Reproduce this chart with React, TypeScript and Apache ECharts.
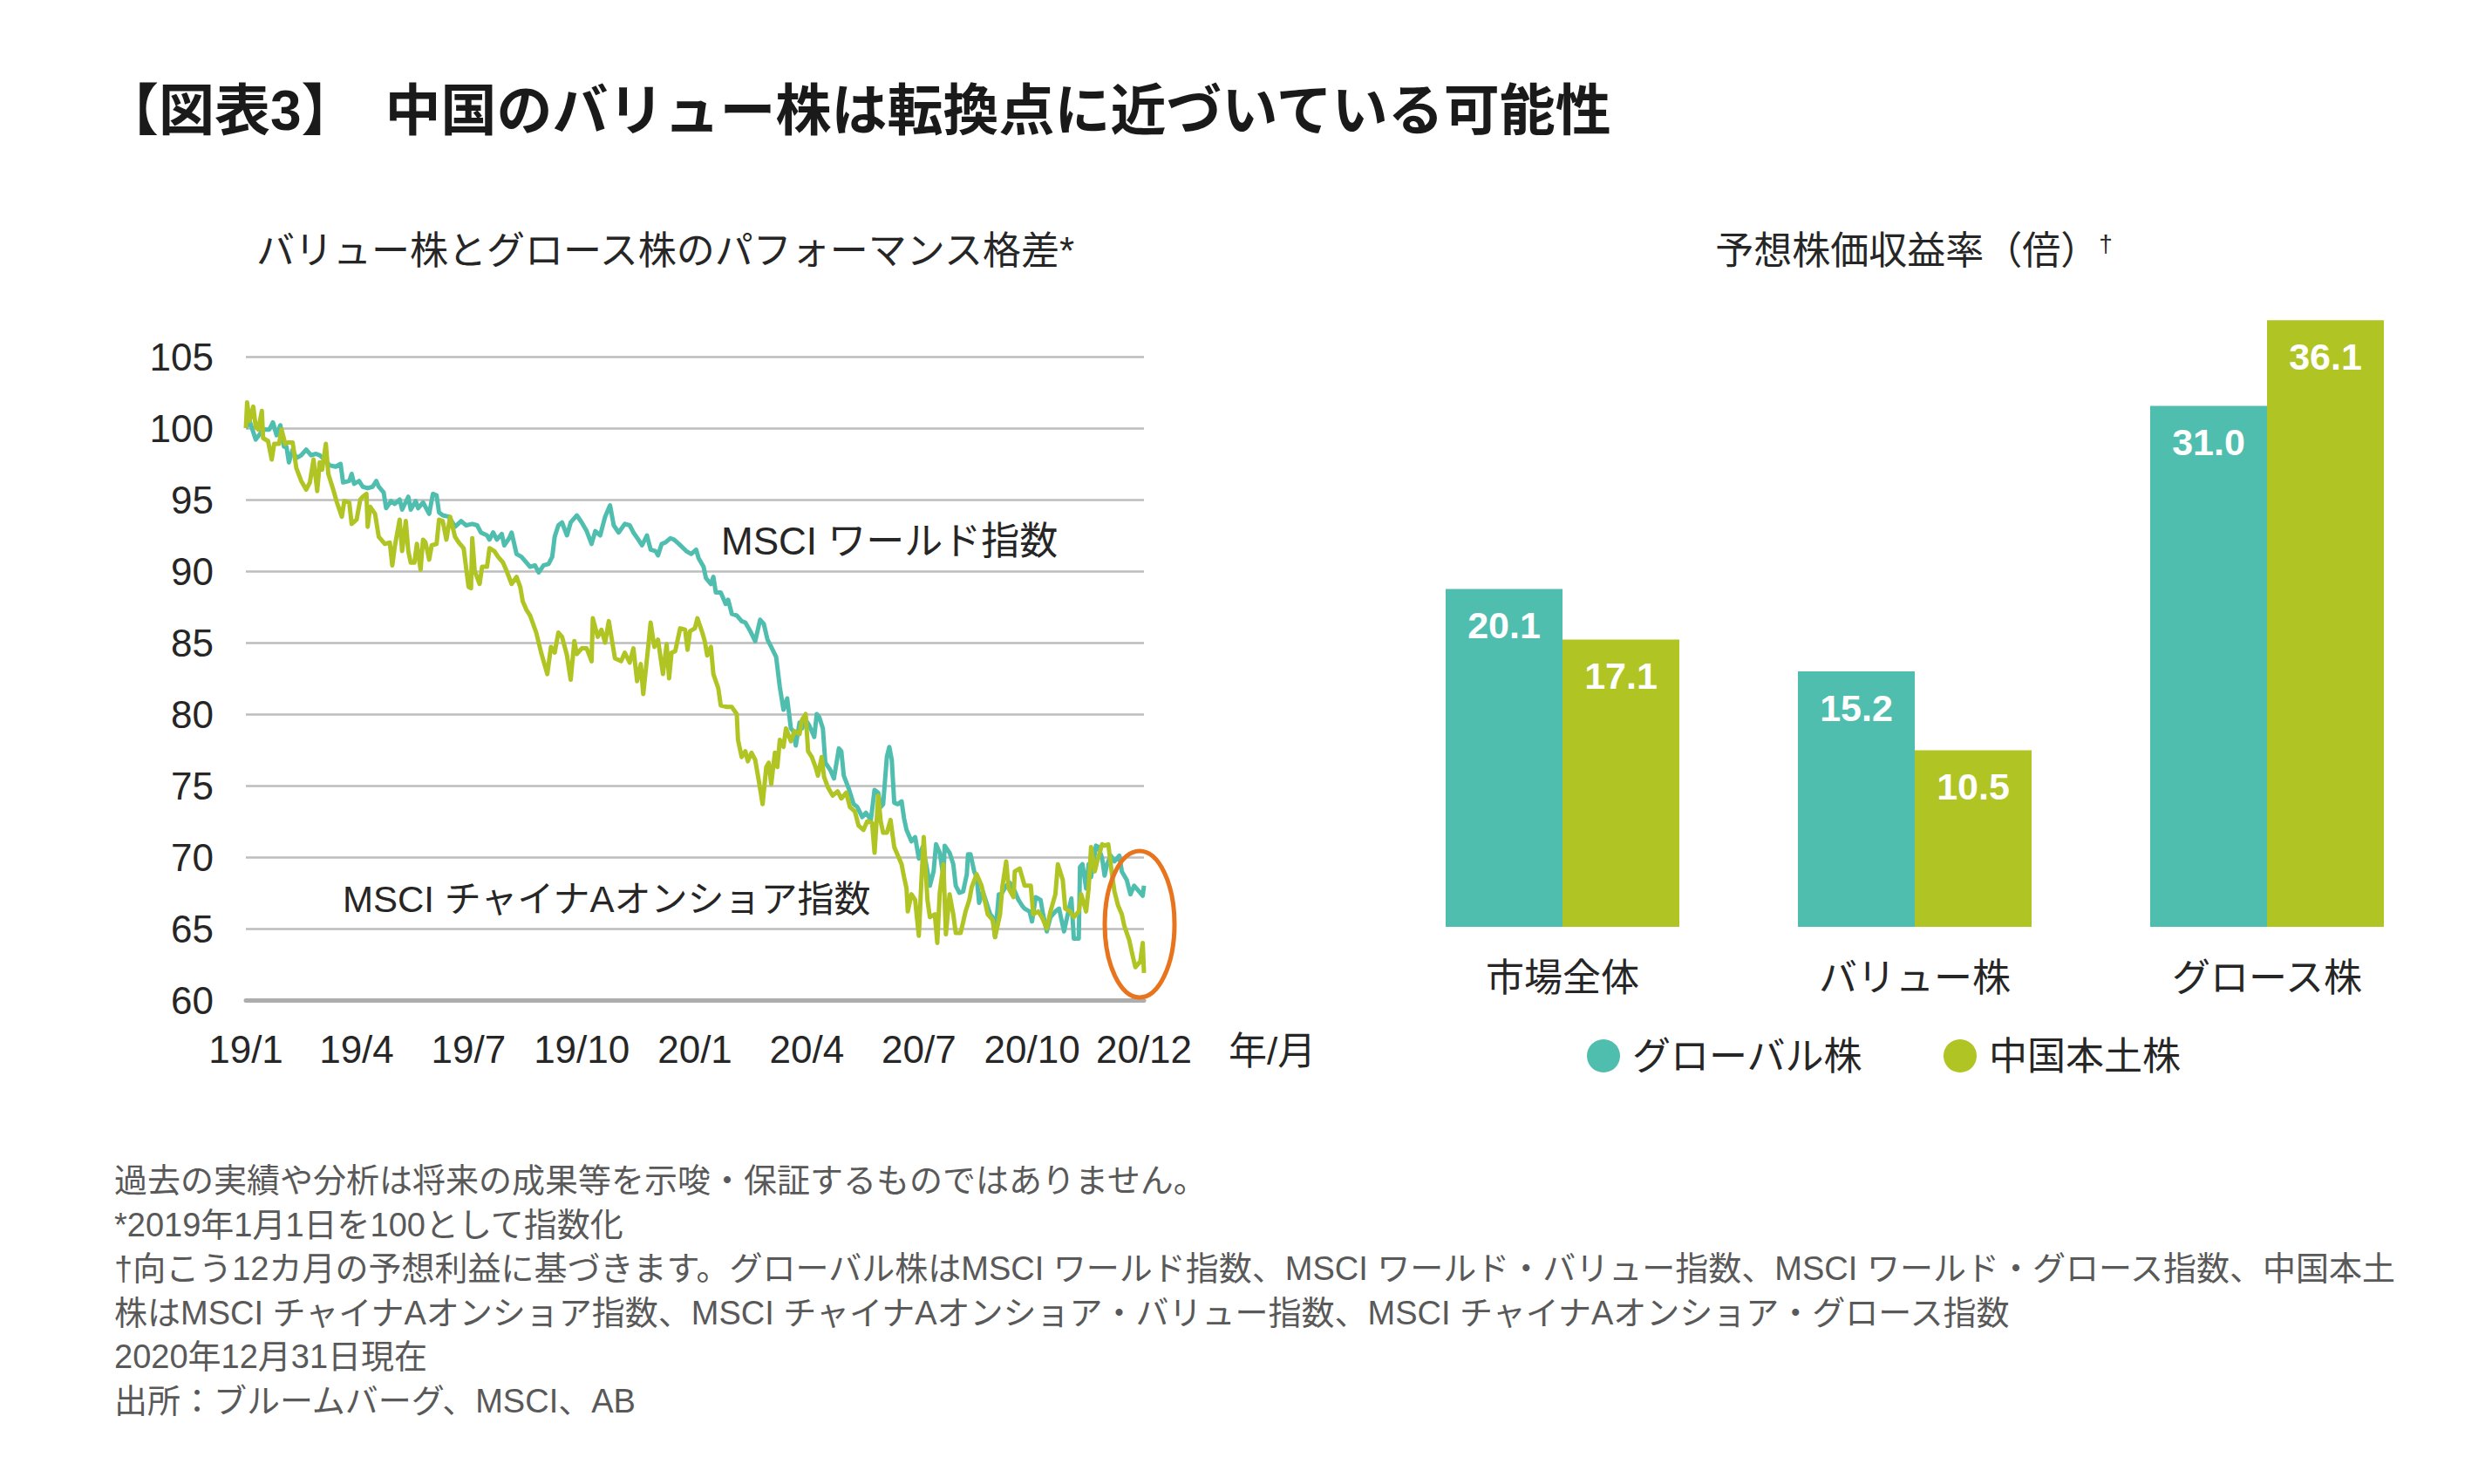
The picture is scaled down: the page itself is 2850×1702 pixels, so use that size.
import React, { useEffect, useRef } from 'react';
import * as echarts from 'echarts';

const FONT = "'Liberation Sans', 'Noto Sans CJK JP', sans-serif";
const TEAL = '#50BEAE';
const LIME = '#B0C423';
const TXT = '#262626';

// Left chart: x = days since 2019-01-01, y = index (2019/1/1 = 100)
const xTickDays = [0, 90, 181, 273, 365, 456, 547, 639, 730];
const xTickLabels = ['19/1', '19/4', '19/7', '19/10', '20/1', '20/4', '20/7', '20/10', '20/12'];

const worldIndex: [number, number][] = [
  [0,100.0],[3,100.5],[8,99.2],[14,99.9],[19,99.9],[22,100.4],[25,99.5],[28,100.2],[31,98.7],[33,98.7],[35,97.6],[38,98.5],[41,97.9],[45,98.1],[49,98.5],[53,98.1],[57,98.2],[60,98.1],[64,97.8],[68,97.4],[73,97.3],[77,97.5],[79,96.2],[84,96.3],[86,96.8],[88,96.1],[92,96.3],[95,95.9],[99,95.8],[103,95.9],[106,96.3],[108,95.9],[112,95.5],[114,94.4],[118,94.9],[121,94.7],[125,95.0],[127,94.3],[132,95.2],[134,94.3],[138,94.9],[140,94.4],[144,94.8],[149,94.0],[152,95.4],[155,95.3],[157,94.1],[160,93.9],[165,93.8],[170,93.1],[175,93.5],[179,93.2],[184,93.3],[188,93.2],[191,92.7],[196,92.5],[198,92.2],[201,92.7],[204,92.2],[208,92.6],[210,91.8],[214,92.3],[216,92.7],[220,91.2],[224,91.0],[228,90.6],[231,90.3],[235,90.4],[238,89.9],[242,90.4],[246,90.5],[249,91.0],[251,92.4],[254,93.2],[257,93.4],[261,92.5],[264,93.4],[269,93.9],[273,93.4],[277,92.8],[281,91.9],[284,92.8],[288,92.5],[292,93.8],[296,94.6],[299,93.2],[303,92.7],[308,93.3],[312,93.2],[315,92.7],[319,92.2],[322,91.8],[326,92.5],[329,91.5],[333,91.4],[335,91.1],[338,91.9],[341,92.0],[345,92.3],[348,92.2],[352,91.9],[358,91.4],[362,91.2],[366,91.5],[368,90.9],[372,90.3],[374,89.5],[378,89.1],[380,89.6],[382,88.5],[386,88.5],[390,87.7],[392,88.0],[395,87.0],[399,86.9],[403,86.5],[406,86.4],[410,85.8],[414,85.1],[418,86.6],[421,86.3],[424,85.2],[427,84.7],[431,84.0],[434,81.9],[437,80.3],[440,81.1],[443,79.0],[445,78.8],[447,77.8],[450,79.4],[452,79.0],[455,79.6],[458,79.2],[462,78.4],[464,80.0],[466,79.8],[469,79.0],[471,76.6],[475,76.1],[478,75.5],[482,77.6],[484,77.4],[486,75.7],[490,74.8],[494,73.7],[497,73.5],[501,72.8],[504,73.1],[508,72.6],[511,74.7],[514,74.5],[516,73.5],[518,73.7],[521,77.0],[523,77.7],[525,76.8],[527,73.8],[530,73.7],[533,73.9],[535,72.7],[537,71.9],[541,71.1],[544,71.4],[547,69.9],[550,70.7],[553,69.5],[556,68.0],[559,69.0],[561,70.9],[564,70.3],[567,68.6],[568,70.8],[572,70.3],[575,69.5],[577,68.0],[580,67.5],[583,67.6],[586,68.8],[587,70.2],[589,70.2],[592,69.0],[594,68.6],[596,66.8],[599,67.6],[602,66.8],[605,66.0],[607,65.8],[609,64.4],[612,67.4],[614,67.4],[618,68.0],[621,68.2],[625,67.6],[628,67.0],[631,66.6],[633,66.4],[637,66.2],[639,65.5],[642,67.2],[646,67.0],[648,66.0],[651,64.8],[654,65.8],[658,66.2],[661,66.4],[665,64.8],[667,65.6],[671,67.1],[673,64.3],[677,64.3],[678,69.3],[680,69.5],[683,67.8],[685,69.5],[687,68.6],[691,70.8],[693,70.7],[696,69.9],[698,68.7],[700,69.5],[703,70.1],[706,69.7],[710,70.1],[712,69.0],[716,68.4],[719,67.4],[722,68.0],[724,67.8],[726,67.6],[729,67.3],[730,68.0]
];

const chinaAIndex: [number, number][] = [
  [0,100.0],[1,101.8],[3,100.5],[6,101.5],[8,100.1],[10,99.9],[13,101.2],[14,99.3],[18,99.1],[21,97.8],[23,98.9],[27,98.9],[29,99.9],[32,98.9],[34,99.0],[38,99.0],[41,97.2],[45,96.3],[49,95.7],[52,96.2],[55,97.8],[58,95.6],[60,97.6],[62,97.1],[65,98.9],[67,96.8],[71,95.7],[74,94.8],[78,93.8],[80,94.9],[84,94.8],[86,93.3],[90,93.6],[93,95.0],[95,95.2],[98,95.4],[99,93.1],[101,94.5],[105,94.0],[108,92.4],[113,91.9],[117,92.0],[119,90.4],[121,91.7],[125,93.6],[127,91.4],[130,93.5],[132,91.4],[134,90.6],[137,90.6],[139,91.9],[142,90.1],[144,92.2],[146,92.0],[149,90.8],[151,91.8],[155,91.9],[157,93.6],[160,93.5],[163,92.2],[166,93.8],[170,92.4],[173,92.0],[177,91.6],[181,88.9],[183,88.8],[184,92.3],[186,90.0],[190,89.1],[192,90.3],[196,90.3],[198,91.6],[202,91.4],[205,91.0],[209,90.6],[212,90.0],[216,89.1],[220,89.6],[223,88.9],[225,87.9],[228,87.3],[231,86.9],[236,85.7],[240,84.3],[245,82.8],[248,84.7],[251,84.3],[254,85.7],[257,85.4],[261,84.1],[264,82.4],[267,85.1],[269,84.2],[273,84.6],[277,84.6],[281,83.7],[282,86.7],[286,85.4],[289,85.9],[292,85.0],[295,86.5],[300,83.9],[305,83.7],[308,84.3],[312,83.6],[315,84.6],[318,82.3],[321,83.5],[323,81.4],[327,84.7],[329,86.4],[332,84.7],[335,85.2],[339,82.8],[342,84.9],[344,82.5],[346,84.3],[349,84.4],[353,86.0],[357,85.9],[359,84.5],[361,85.8],[365,86.0],[367,86.7],[371,85.7],[373,85.1],[375,84.1],[378,84.7],[380,82.8],[384,81.8],[386,80.6],[391,80.5],[395,80.5],[399,80.0],[400,78.2],[403,77.0],[406,77.4],[408,76.7],[411,77.3],[414,76.8],[417,75.3],[420,73.7],[423,76.3],[425,76.6],[427,75.1],[430,77.3],[432,76.3],[434,78.2],[437,77.7],[439,79.0],[443,78.1],[446,78.8],[450,78.6],[452,79.6],[455,80.0],[457,77.4],[460,77.0],[463,76.3],[465,75.7],[468,77.0],[470,75.6],[473,74.9],[477,74.3],[481,74.6],[484,74.1],[488,74.5],[491,73.5],[495,73.2],[498,72.2],[502,71.9],[505,72.5],[509,72.4],[511,70.3],[514,74.3],[516,72.5],[518,71.7],[521,71.7],[524,72.6],[527,70.7],[530,70.1],[533,69.5],[535,68.6],[537,67.8],[538,66.2],[541,67.4],[544,67.0],[547,64.5],[549,68.2],[551,71.4],[554,67.0],[556,65.8],[560,66.0],[562,64.0],[564,67.5],[567,69.5],[569,64.6],[572,67.4],[575,66.0],[577,64.7],[581,64.7],[585,66.2],[588,67.0],[590,67.9],[594,68.8],[598,68.0],[600,67.2],[603,66.0],[607,65.6],[609,64.4],[613,66.0],[615,68.0],[618,69.7],[620,67.8],[624,67.2],[625,69.0],[629,69.2],[633,68.0],[638,68.0],[640,66.0],[644,66.2],[647,65.8],[651,65.0],[654,66.2],[658,67.4],[660,69.5],[664,68.4],[666,66.4],[670,66.2],[673,65.8],[677,66.2],[679,67.4],[683,66.2],[685,67.8],[687,70.7],[690,69.0],[692,69.7],[696,70.9],[698,70.8],[701,70.9],[704,68.8],[706,67.6],[709,66.6],[712,66.0],[714,65.2],[718,64.2],[720,63.4],[723,62.3],[725,62.5],[727,62.7],[729,64.0],[730,61.9]
];

// Right chart: forward P/E
const peCategories = ['市場全体', 'バリュー株', 'グロース株'];
const peGlobal = [20.1, 15.2, 31.0];
const peChinaMainland = [17.1, 10.5, 36.1];

const footnotes = [
  '過去の実績や分析は将来の成果等を示唆・保証するものではありません。',
  '*2019年1月1日を100として指数化',
  '†向こう12カ月の予想利益に基づきます。グローバル株はMSCI ワールド指数、MSCI ワールド・バリュー指数、MSCI ワールド・グロース指数、中国本土',
  '株はMSCI チャイナAオンショア指数、MSCI チャイナAオンショア・バリュー指数、MSCI チャイナAオンショア・グロース指数',
  '2020年12月31日現在',
  '出所：ブルームバーグ、MSCI、AB',
];

function txt(x: number, y: number, text: string, fontSize: number, extra: any = {}) {
  return {
    type: 'text',
    x,
    y,
    style: {
      text,
      fontSize,
      fontFamily: FONT,
      fill: TXT,
      align: 'left',
      verticalAlign: 'middle',
      ...extra,
    },
  };
}

function buildOption() {
  const barLabel = {
    show: true,
    position: 'insideTop',
    distance: 20,
    color: '#ffffff',
    fontSize: 43,
    fontWeight: 'bold',
    fontFamily: FONT,
    formatter: (p: any) => Number(p.value).toFixed(1),
  };
  return {
    animation: false,
    backgroundColor: '#ffffff',
    textStyle: { fontFamily: FONT },
    grid: [
      { left: 282, top: 409, width: 1030, height: 738 },
      { left: 1590, top: 292, width: 1212, height: 771 },
    ],
    xAxis: [
      {
        type: 'value',
        gridIndex: 0,
        min: 0,
        max: 730,
        axisLine: { show: true, lineStyle: { color: '#ADADAD', width: 5 } },
        axisTick: { show: false },
        splitLine: { show: false },
        axisLabel: {
          customValues: xTickDays,
          formatter: (v: number) => {
            const i = xTickDays.indexOf(Math.round(v));
            return i >= 0 ? xTickLabels[i] : '';
          },
          fontSize: 44,
          color: TXT,
          margin: 34,
          fontFamily: FONT,
        },
      },
      {
        type: 'category',
        gridIndex: 1,
        data: peCategories,
        axisLine: { show: false },
        axisTick: { show: false },
        axisLabel: { fontSize: 44, color: TXT, margin: 36, fontFamily: FONT },
      },
    ],
    yAxis: [
      {
        type: 'value',
        gridIndex: 0,
        min: 60,
        max: 105,
        interval: 5,
        axisLine: { show: false },
        axisTick: { show: false },
        splitLine: { show: true, lineStyle: { color: '#BDBDBD', width: 2.5 } },
        axisLabel: { fontSize: 44, color: TXT, margin: 37, fontFamily: FONT },
      },
      { type: 'value', gridIndex: 1, min: 0, max: 40, show: false },
    ],
    legend: {
      data: ['グローバル株', '中国本土株'],
      left: 1815,
      top: 1184,
      icon: 'circle',
      itemWidth: 38,
      itemHeight: 38,
      itemGap: 93,
      textStyle: { fontSize: 44, color: TXT, fontFamily: FONT, padding: [0, 0, 0, 9] },
    },
    series: [
      {
        name: 'MSCI ワールド指数',
        type: 'line',
        xAxisIndex: 0,
        yAxisIndex: 0,
        data: worldIndex,
        showSymbol: false,
        symbol: 'none',
        lineStyle: { color: TEAL, width: 5, join: 'round' },
        itemStyle: { color: TEAL },
        z: 3,
      },
      {
        name: 'MSCI チャイナAオンショア指数',
        type: 'line',
        xAxisIndex: 0,
        yAxisIndex: 0,
        data: chinaAIndex,
        showSymbol: false,
        symbol: 'none',
        lineStyle: { color: LIME, width: 5, join: 'round' },
        itemStyle: { color: LIME },
        z: 4,
      },
      {
        name: 'グローバル株',
        type: 'bar',
        xAxisIndex: 1,
        yAxisIndex: 1,
        data: peGlobal,
        barWidth: 134,
        barGap: '0%',
        itemStyle: { color: TEAL },
        label: barLabel,
      },
      {
        name: '中国本土株',
        type: 'bar',
        xAxisIndex: 1,
        yAxisIndex: 1,
        data: peChinaMainland,
        barWidth: 134,
        barGap: '0%',
        itemStyle: { color: LIME },
        label: barLabel,
      },
    ],
    graphic: [
      txt(118, 127, '【図表3】　中国のバリュー株は転換点に近づいている可能性', 64, { fontWeight: 'bold', fill: '#1a1a1a' }),
      txt(294, 287, 'バリュー株とグロース株のパフォーマンス格差*', 44),
      {
        type: 'text',
        x: 2195,
        y: 287,
        style: {
          text: '予想株価収益率（倍）{d|†}',
          fontSize: 44,
          fontFamily: FONT,
          fill: TXT,
          align: 'center',
          verticalAlign: 'middle',
          rich: { d: { fontSize: 28, fontFamily: FONT, fill: TXT, color: TXT, verticalAlign: 'top' } },
        },
      },
      txt(827, 620, 'MSCI ワールド指数', 44),
      txt(393, 1031, 'MSCI チャイナAオンショア指数', 42),
      txt(1409, 1205, '年/月', 44),
      {
        type: 'ellipse',
        shape: { cx: 1307, cy: 1060, rx: 40, ry: 84 },
        style: { fill: 'none', stroke: '#E8741E', lineWidth: 5 },
        z: 10,
      },
      ...footnotes.map((t, i) => txt(131, 1354 + i * 50.6, t, 38, { fill: '#595959' })),
    ],
  };
}

export default function App() {
  const ref = useRef<HTMLDivElement>(null);
  useEffect(() => {
    document.body.style.margin = '0';
    const chart = echarts.init(ref.current as HTMLDivElement, undefined, { renderer: 'svg' });
    chart.setOption(buildOption() as any);
    return () => chart.dispose();
  }, []);
  return <div ref={ref} style={{ width: 2850, height: 1702, background: '#ffffff' }} />;
}
